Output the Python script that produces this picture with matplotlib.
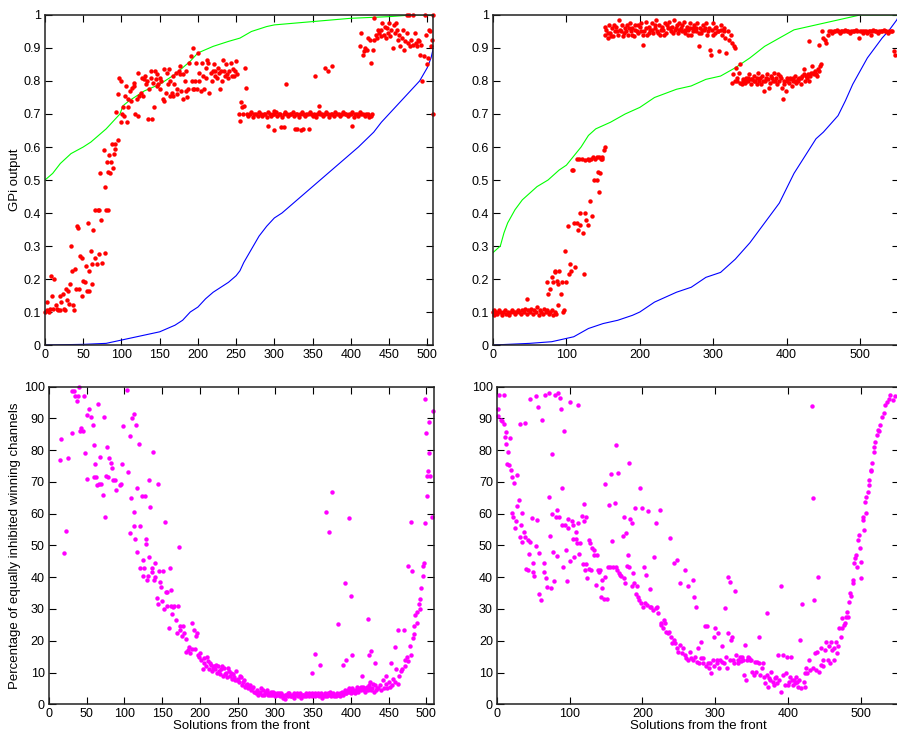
import matplotlib
matplotlib.use('Agg')
import matplotlib.pyplot as plt

plt.rcParams['font.family'] = ['Liberation Sans', 'DejaVu Sans']

# ---------------- top left: GPi output, first front ----------------
tl_green = [(0, .50), (10, .52), (20, .55), (34, .58), (50, .60), (60, .615), (70, .635),
            (80, .655), (90, .68), (98, .70), (102, .725), (110, .74), (130, .77), (150, .79),
            (170, .82), (180, .84), (190, .86), (200, .885), (220, .905), (240, .92), (255, .93),
            (270, .95), (290, .965), (300, .97), (350, .98), (400, .99), (450, .995), (480, 1.0),
            (508, 1.0)]
tl_blue = [(0, 0), (50, .002), (80, .005), (100, .015), (120, .025), (150, .04), (170, .06),
           (180, .075), (190, .10), (200, .115), (210, .14), (220, .16), (240, .19), (250, .21),
           (255, .225), (260, .25), (270, .29), (280, .33), (290, .36), (300, .385), (310, .40),
           (330, .44), (350, .48), (370, .52), (390, .56), (410, .60), (430, .645), (440, .675),
           (450, .70), (470, .75), (490, .80), (500, .84), (505, .87), (508, .90)]
tl_red_low = [(0, .10), (2, .105), (3, .13), (5, .10), (7, .11), (8, .21), (9, .15), (11, .11),
              (12, .20), (14, .12), (16, .11), (17, .105), (19, .15), (20, .105), (21, .13),
              (23, .155), (25, .11), (26, .105), (27, .17), (29, .135), (30, .165), (32, .125),
              (33, .185), (34, .30), (35, .225), (37, .12), (38, .105), (39, .23), (40, .17),
              (42, .36), (43, .355), (44, .17), (46, .27), (48, .15), (49, .265), (50, .195),
              (52, .19), (53, .24), (55, .165), (56, .37), (57, .225), (58, .165), (60, .285),
              (61, .185), (62, .245), (63, .35), (65, .265), (66, .41), (68, .245), (69, .41),
              (70, .275), (71, .41), (72, .52), (73, .38), (75, .25), (77, .59), (78, .48),
              (79, .28), (80, .41), (81, .555), (82, .41), (83, .525), (84, .575), (85, .52),
              (86, .555), (88, .61), (89, .535), (90, .58), (91, .61), (92, .595), (93, .705),
              (95, .62), (96, .76), (97, .81), (99, .675), (100, .80), (101, .70), (102, .72),
              (103, .695), (104, .755), (106, .785), (107, .675), (108, .745), (109, .72),
              (111, .77), (112, .74)]
tl_red_mid = [(114, .78), (116, .785), (117, .795), (118, .70), (120, .745), (121, .695),
              (122, .825), (123, .755), (126, .765), (127, .81), (128, .755), (129, .805),
              (131, .815), (132, .79), (133, .80), (135, .685), (136, .775), (138, .83),
              (139, .81), (140, .685), (141, .795), (142, .72), (144, .83), (145, .805),
              (146, .785), (147, .82), (148, .79), (150, .81), (151, .775), (152, .80),
              (154, .745), (155, .74), (156, .835), (158, .765), (159, .825), (161, .79),
              (162, .835), (163, .755), (164, .80), (166, .765), (167, .815), (168, .755),
              (169, .79), (171, .825), (172, .76), (173, .775), (175, .83), (176, .82),
              (177, .845), (178, .77), (180, .82), (181, .745), (183, .80), (184, .77),
              (185, .83), (186, .75), (187, .775), (189, .855), (191, .875), (192, .80),
              (193, .775), (194, .90), (195, .775), (196, .80), (198, .855), (199, .775),
              (200, .885), (201, .80), (202, .825), (204, .77), (205, .855), (207, .815),
              (208, .775), (210, .84), (211, .81), (212, .865), (213, .855), (215, .765),
              (217, .825), (218, .80), (220, .83), (221, .85), (222, .815), (223, .83),
              (225, .81), (226, .84), (228, .825), (229, .775), (230, .83), (231, .80),
              (233, .865), (234, .83), (236, .815), (237, .85), (238, .82), (240, .81),
              (241, .83), (243, .855), (244, .815), (246, .835), (247, .815), (248, .83),
              (250, .86), (251, .82), (254, .70), (255, .68), (256, .735), (258, .72),
              (259, .70), (260, .725), (262, .84), (263, .78)]
tl_red_band = [(264, .70), (266, .695), (268, .70), (270, .705), (272, .69), (274, .70),
               (276, .70), (278, .695), (280, .705), (282, .70), (284, .695), (286, .70),
               (288, .70), (290, .69), (292, .705), (294, .70), (296, .695), (298, .70),
               (300, .70), (302, .705), (304, .695), (306, .70), (308, .70), (310, .69),
               (312, .70), (314, .705), (316, .70), (318, .695), (320, .70), (322, .70),
               (324, .705), (326, .695), (328, .70), (330, .70), (332, .69), (334, .70),
               (336, .705), (338, .70), (340, .695), (342, .70), (344, .70), (346, .705),
               (348, .70), (350, .695), (352, .70), (354, .69), (356, .70), (358, .705),
               (360, .70), (362, .70), (364, .695), (366, .70), (368, .705), (370, .70),
               (372, .69), (374, .70), (376, .70), (378, .695), (380, .705), (382, .70),
               (384, .70), (386, .695), (388, .70), (390, .705), (392, .70), (394, .70),
               (396, .695), (398, .70), (400, .70), (402, .705), (404, .69), (406, .70),
               (408, .70), (410, .695), (412, .705), (414, .70), (416, .70), (418, .695),
               (420, .70), (422, .70), (424, .69), (426, .695), (428, .70)]
tl_red_out = [(292, .665), (299, .71), (300, .65), (309, .66), (312, .66), (315, .79),
              (327, .655), (330, .655), (335, .65), (337, .655), (345, .655), (353, .815),
              (359, .725), (366, .84), (370, .83), (375, .845), (402, .665)]
tl_red_high = [(412, .905), (413, .945), (416, .88), (417, .89), (419, .90), (421, .895),
               (423, .93), (425, .925), (427, .855), (429, .895), (430, .925), (431, .99),
               (433, .94), (434, .93), (436, .955), (437, .945), (439, .935), (440, .955),
               (441, .975), (443, .94), (445, .965), (446, .93), (448, .96), (449, .945),
               (450, .975), (451, .935), (453, .955), (455, .90), (456, .97), (458, .945),
               (459, .975), (461, .955), (462, .925), (463, .94), (465, .905), (467, .93),
               (468, .955), (470, .895), (471, .92), (473, .945), (474, 1.0), (475, .915),
               (476, 1.0), (478, .905), (479, .925), (481, .91), (482, 1.0), (484, .945),
               (485, .915), (487, .905), (488, .925), (489, .92), (491, .88), (492, .91),
               (493, .80), (496, .875), (497, 1.0), (498, .94), (500, .85), (501, .87),
               (502, .955), (503, .95), (505, .905), (506, .925), (507, 1.0), (508, .70)]

# ---------------- top right: GPi output, second front ----------------
tr_green = [(0, .28), (10, .30), (15, .34), (20, .37), (30, .41), (40, .44), (50, .46),
            (60, .48), (75, .50), (90, .53), (100, .545), (120, .60), (130, .635), (140, .655),
            (160, .675), (180, .70), (200, .72), (220, .75), (250, .775), (270, .785),
            (290, .805), (310, .815), (330, .84), (350, .87), (370, .905), (390, .93),
            (410, .955), (440, .97), (470, .985), (500, 1.0), (553, 1.0)]
tr_blue = [(0, 0), (50, .005), (80, .01), (100, .02), (110, .025), (130, .05), (150, .065),
           (170, .075), (190, .09), (200, .10), (220, .13), (250, .16), (270, .175),
           (290, .205), (310, .22), (330, .26), (350, .31), (370, .37), (390, .43), (410, .52),
           (420, .555), (430, .59), (440, .625), (450, .645), (460, .67), (470, .695),
           (480, .74), (490, .79), (510, .87), (530, .93), (540, .955), (550, .985), (553, 1.0)]
tr_red_low = [(0, .10), (1, .09), (2, .105), (4, .10), (6, .095), (8, .105), (10, .10),
              (12, .09), (14, .10), (16, .105), (18, .095), (20, .10), (22, .09), (24, .10),
              (26, .105), (28, .10), (30, .095), (32, .10), (34, .105), (36, .10), (38, .095),
              (40, .105), (42, .10), (44, .11), (46, .095), (47, .14), (48, .105), (50, .10),
              (52, .11), (54, .095), (56, .105), (58, .10), (60, .115), (62, .09), (64, .105),
              (66, .10), (68, .095), (70, .11), (72, .10), (74, .105), (76, .095), (78, .10),
              (80, .105), (82, .09), (84, .10), (86, .095), (88, .12)]
tr_red_rise = [(73, .19), (75, .155), (77, .17), (80, .205), (82, .19), (84, .225), (85, .22),
               (87, .195), (89, .185), (90, .225), (92, .155), (94, .19), (96, .10), (97, .105),
               (98, .285), (100, .19), (102, .36), (104, .215), (105, .245), (106, .225),
               (108, .53), (109, .53), (110, .37), (112, .235), (114, .37), (115, .565),
               (116, .35), (118, .365), (119, .40), (121, .565), (123, .34), (124, .215),
               (126, .40), (127, .38), (129, .565), (130, .365), (132, .435), (133, .565),
               (135, .39), (136, .57), (138, .50), (139, .565), (142, .50), (143, .525),
               (144, .465), (145, .57), (146, .52), (148, .57), (149, .565), (151, .59),
               (153, .60), (117, .565), (125, .56), (131, .56), (141, .57), (147, .565)]
tr_red_top = [(152, .94), (154, .955), (156, .93), (158, .97), (160, .945), (162, .96),
              (164, .935), (166, .95), (168, .965), (170, .94), (172, .985), (174, .95),
              (176, .97), (178, .945), (180, .96), (182, .97), (184, .94), (186, .975),
              (188, .95), (190, .96), (192, .935), (194, .97), (196, .95), (198, .945),
              (200, .965), (202, .975), (204, .91), (206, .95), (208, .98), (210, .94),
              (212, .965), (214, .955), (216, .975), (218, .945), (220, .96), (222, .985),
              (224, .95), (226, .97), (228, .94), (230, .965), (232, .955), (234, .975),
              (236, .945), (238, .96), (240, .98), (242, .95), (244, .965), (246, .985),
              (248, .955), (250, .97), (252, .945), (254, .975), (256, .96), (258, .95),
              (260, .98), (262, .945), (264, .965), (266, .955), (268, .975), (270, .94),
              (272, .96), (274, .97), (276, .95), (278, .975), (280, .905), (282, .96),
              (284, .945), (286, .97), (288, .955), (290, .975), (292, .94), (294, .96),
              (296, .895), (297, .88), (298, .955), (300, .975), (302, .945), (304, .965),
              (306, .95), (308, .89), (310, .97), (312, .94), (314, .96), (316, .93),
              (318, .885), (320, .95), (322, .925), (324, .94), (326, .915), (328, .905),
              (330, .90), (153, .965), (157, .945), (161, .935), (165, .97), (169, .95),
              (173, .955), (177, .935), (181, .95), (185, .96), (189, .94), (193, .955),
              (197, .97), (201, .95), (205, .94), (209, .96), (213, .945), (217, .955),
              (221, .97), (225, .945), (229, .955), (233, .94), (237, .97), (241, .96),
              (245, .945), (249, .96), (253, .955), (257, .97), (261, .955), (265, .94),
              (269, .96), (273, .95), (277, .96), (281, .945), (285, .955), (289, .96),
              (293, .95), (299, .94), (303, .96), (307, .95), (311, .955), (315, .95)]
tr_red_mid = [(325, .795), (327, .82), (329, .80), (331, .84), (333, .81), (335, .825),
              (337, .85), (339, .79), (341, .805), (343, .795), (345, .81), (347, .80),
              (349, .82), (351, .79), (353, .805), (355, .815), (357, .80), (359, .81),
              (361, .825), (363, .80), (365, .79), (367, .815), (369, .77), (371, .80),
              (373, .82), (375, .805), (377, .795), (379, .815), (381, .80), (383, .825),
              (385, .81), (387, .79), (389, .80), (391, .815), (393, .78), (395, .745),
              (397, .80), (399, .77), (401, .81), (403, .795), (405, .805), (407, .785),
              (409, .81), (411, .80), (413, .795), (415, .805), (417, .81), (419, .79),
              (421, .815), (423, .835), (425, .80), (427, .815), (429, .82), (431, .80),
              (433, .825), (435, .845), (437, .82), (439, .83), (441, .815), (443, .835),
              (445, .845), (447, .85), (332, .80), (336, .795), (340, .80), (344, .80),
              (348, .81), (352, .805), (356, .80), (360, .79), (364, .81), (368, .80),
              (372, .81), (376, .78), (380, .81), (384, .80), (388, .82), (392, .81),
              (396, .79), (400, .80), (404, .81), (408, .80), (412, .815), (416, .80),
              (420, .81), (424, .82), (428, .81), (432, .815), (436, .825), (440, .82),
              (444, .83)]
tr_red_end = [(431, .92), (444, .91), (448, .95), (450, .93), (452, .925), (454, .915),
              (456, .94), (458, .95), (460, .95), (462, .945), (464, .95), (466, .95),
              (468, .955), (470, .95), (472, .945), (474, .95), (476, .95), (478, .95),
              (480, .955), (482, .95), (484, .95), (486, .945), (488, .95), (490, .95),
              (492, .95), (494, .955), (496, .95), (498, .93), (500, .95), (502, .95),
              (504, .945), (506, .95), (508, .95), (510, .945), (512, .95), (514, .95),
              (515, .94), (516, .95), (518, .955), (520, .95), (522, .95), (524, .945),
              (526, .95), (528, .95), (530, .95), (532, .955), (534, .95), (536, .95),
              (538, .945), (540, .95), (542, .95), (544, .95), (546, .89), (548, .88)]

# ---------------- bottom left: % equally inhibited channels, first front ----------------
bl_mag_a = [(15, 77), (16, 83.5), (20, 47.5), (22, 54.5), (25, 77.5), (31, 85.5), (31, 98.5),
            (33, 98.5), (35, 97), (37, 95.5), (38, 97), (40, 100), (41, 86), (43, 87), (45, 86),
            (46, 97), (48, 79), (50, 71), (51, 91), (53, 93), (56, 90.5), (58, 88), (59, 81.5),
            (60, 71.5), (61, 75.5), (62, 71.5), (64, 69), (65, 94.5), (66, 69.5), (68, 78),
            (69, 69.5), (71, 66), (73, 90.5), (74, 59), (75, 72), (77, 81), (78, 71.5),
            (79, 77.5), (82, 76), (83, 74.5), (85, 70.5), (87, 70.5), (89, 67.5), (94, 69),
            (95, 69.5), (97, 75.5), (98, 87.5), (103, 99), (105, 73), (107, 84.5), (107, 54),
            (108, 65), (110, 90), (112, 56), (112, 60.5), (113, 91.5), (114, 52), (115, 88),
            (116, 68), (117, 48), (119, 82), (120, 43), (121, 56), (123, 65.5), (124, 45.5),
            (125, 40.5), (126, 43), (127, 65.5), (128, 50.5), (129, 52), (130, 39), (131, 40.5),
            (132, 70.5), (133, 46.5), (134, 62), (136, 41.5), (137, 43), (138, 79.5), (139, 39),
            (140, 40), (141, 44.5), (143, 33.5), (144, 31.5), (145, 69.5), (146, 42),
            (147, 38.5), (148, 37), (150, 32.5), (151, 42), (152, 30), (154, 57.5), (155, 35.5),
            (156, 31), (157, 35.5), (159, 24), (160, 43), (161, 31), (162, 36), (163, 28.5),
            (164, 30.5), (166, 31), (168, 26.5), (169, 22.5), (171, 31), (172, 49.5),
            (173, 24.5), (174, 23.5), (176, 21.5), (177, 24.5), (179, 22.5), (181, 16.5),
            (182, 20.5), (184, 17), (185, 18), (187, 16), (189, 25.5), (190, 17.5), (192, 23.5),
            (193, 17.5), (195, 21.5), (196, 22.5), (197, 15.5), (199, 15), (200, 16), (202, 14)]
bl_mag_b = [(204, 11), (205, 13), (206, 14.5), (208, 12), (210, 13.5), (212, 11), (214, 12.5),
            (216, 10.5), (218, 12), (220, 11), (222, 10), (224, 12), (226, 9.5), (228, 11),
            (230, 9), (232, 11.5), (234, 10), (236, 8.5), (238, 10.5), (240, 9), (242, 8),
            (244, 9.5), (246, 7.5), (248, 10.5), (250, 8), (252, 7), (254, 8.5), (256, 6),
            (258, 7.5), (260, 5.5), (262, 6.5), (264, 5), (266, 6), (268, 4.5), (270, 5.5),
            (272, 4), (274, 3.5), (209, 15), (213, 13), (217, 11.5), (221, 12.5), (225, 10.5),
            (229, 12), (233, 9.5), (237, 11.5), (241, 10), (245, 8.5), (249, 7.5), (253, 9),
            (257, 7), (261, 6), (265, 5.5), (269, 5)]
bl_mag_band = [(276, 4.5), (278, 3.5), (280, 4), (282, 3), (284, 4.5), (286, 3.5), (288, 4),
               (290, 3), (292, 3.5), (294, 4), (296, 3), (298, 3.5), (300, 2.5), (302, 3.5),
               (304, 3), (306, 2.5), (308, 3.5), (310, 2), (312, 1.8), (314, 3), (316, 2.5),
               (318, 3.5), (320, 2.5), (322, 3), (324, 2), (326, 3), (328, 3.5), (330, 2.5),
               (332, 3), (334, 2), (336, 3), (338, 2.5), (340, 3.5), (342, 3), (344, 2.5),
               (346, 3), (348, 3.5), (350, 3), (352, 2.5), (354, 3), (356, 3.5), (358, 2.5),
               (360, 3.5), (362, 2), (364, 3), (366, 3.5), (368, 2.5), (370, 3), (372, 4),
               (374, 2.5), (376, 3.5), (378, 3), (380, 2.5), (382, 3.5), (384, 3), (386, 2.5),
               (388, 4), (390, 3.5), (392, 4.5), (394, 3.5), (396, 4.5), (398, 4), (400, 3.5),
               (402, 5), (404, 4), (406, 4.5), (408, 5.5), (410, 4), (412, 5), (414, 4.5),
               (416, 5.5), (418, 4), (420, 5), (422, 4.5), (424, 6), (426, 4.5), (428, 5),
               (430, 4), (432, 6), (434, 5), (277, 3), (281, 5), (285, 3), (289, 4.5), (293, 3),
               (297, 4), (301, 3), (305, 3.5), (309, 3), (313, 3), (317, 3.5), (321, 2.5),
               (325, 3.5), (329, 3), (333, 3.5), (337, 3), (341, 2.5), (345, 3.5), (349, 2.5),
               (353, 3.5), (357, 3), (361, 3), (365, 2.5), (369, 3.5), (373, 3), (377, 2.5),
               (381, 3), (385, 3.5), (389, 3), (393, 3.5), (397, 5), (401, 4.5), (405, 3.5),
               (409, 4.5), (413, 5.5), (417, 4.5), (421, 5.5), (425, 5), (429, 6.5), (433, 4.5)]
bl_mag_out = [(349, 9.8), (353, 15.8), (359, 12.4), (367, 60.6), (371, 54.2), (375, 66.7),
              (383, 25.4), (390, 12.4), (392, 38.2), (393, 14), (397, 58.5), (400, 34),
              (401, 15.4), (415, 8.8), (422, 27), (424, 15.5), (425, 7), (426, 16.8), (432, 13)]
bl_mag_c = [(436, 5), (438, 6), (440, 4.5), (442, 7.5), (444, 5), (446, 6.5), (447, 9),
            (448, 5), (450, 7), (452, 5.5), (453, 13), (454, 6), (456, 8), (458, 18), (459, 7),
            (460, 11), (462, 6.5), (463, 23.5), (464, 9), (466, 10.5), (468, 11), (470, 23.5),
            (471, 14), (472, 12), (474, 15), (475, 43.5), (476, 13.5), (478, 18.5), (479, 57.5),
            (480, 15.5), (481, 42), (482, 21), (483, 24.5), (484, 22), (485, 28), (487, 25.5),
            (488, 29), (490, 31.5), (491, 30), (492, 33), (493, 36.5), (495, 40.5), (496, 43.5),
            (497, 44.5), (498, 57), (498, 96), (499, 85.5), (501, 72), (501, 65.5), (502, 73.5),
            (503, 89), (504, 79), (505, 72), (507, 59), (509, 92.5)]

# ---------------- bottom right: % equally inhibited channels, second front ----------------
br_mag_a = [(1, 90.8), (2, 93), (3, 97.5), (5, 89.5), (7, 89.3), (9, 88.3), (10, 97.5),
            (11, 84.2), (12, 82), (13, 85.6), (14, 75.5), (15, 79.5), (16, 75.3), (18, 83.8),
            (19, 73.8), (20, 71.7), (21, 60.1), (22, 59), (23, 69.6), (25, 55.4), (26, 57.6),
            (27, 62.4), (28, 72.2), (30, 64.3), (31, 52.8), (32, 88.2), (33, 56.5), (34, 51.2),
            (35, 60.1), (37, 54.4), (38, 88.7), (39, 52.8), (40, 42.5), (42, 51.6), (43, 42.3),
            (44, 47.3), (45, 96), (46, 51), (48, 58.5), (49, 44.4), (50, 41.8), (51, 40.4),
            (53, 97), (54, 49.8), (55, 58), (56, 93.5), (58, 47.5), (58, 34.7), (60, 32.9),
            (62, 89.5), (64, 41.6), (65, 44.6), (66, 97.3), (68, 39.7), (69, 36.8), (71, 98),
            (72, 65.2), (73, 53), (74, 36.5), (75, 78.8), (76, 59.8), (77, 47.9), (78, 38.7),
            (80, 97.5), (81, 59), (82, 46.7), (83, 61.2), (84, 98), (85, 59), (87, 96.4),
            (88, 93), (89, 56.5), (90, 68), (91, 43.1), (92, 85.9), (94, 56.6), (95, 48.6),
            (96, 38.9), (97, 58.4), (98, 55.4), (100, 45.2), (101, 95.1), (103, 57.7),
            (104, 52), (105, 56.4), (106, 46.3), (108, 52), (109, 54.4), (110, 50.7),
            (111, 94.2), (112, 57), (113, 47.4), (114, 50.7), (117, 59.2), (118, 44.2),
            (119, 57.7), (120, 63), (121, 42.3), (122, 59), (123, 44.2), (124, 39.7),
            (126, 42.7), (127, 51.7), (128, 50.7), (129, 42.3), (131, 49.1), (133, 48.6),
            (134, 47), (136, 37.6), (137, 47), (139, 42.3), (140, 41.8), (142, 42.3),
            (143, 33.9), (144, 36.5), (145, 39.1), (147, 33.3), (148, 69.4), (149, 40.2),
            (151, 33.3), (152, 43.3), (154, 62.8), (156, 43.3), (157, 72.4), (158, 51.5),
            (160, 43.3), (162, 63.4), (163, 43.1), (164, 81.7), (165, 42.3), (166, 72.7),
            (168, 41.2), (169, 40.7), (171, 40.4), (173, 53.1), (174, 39.7), (175, 59),
            (176, 38.1), (177, 53.8), (179, 43.6), (180, 47), (181, 76.1), (182, 43.3),
            (183, 58.3), (185, 37.1), (186, 57), (187, 41.2), (189, 38.1), (190, 61.7),
            (191, 34.7), (192, 37.1), (194, 33.9), (195, 32.9), (197, 68.2), (198, 32),
            (200, 61.7), (201, 30.7), (202, 43.3), (203, 31.9), (205, 40.7), (206, 31.3),
            (208, 60.7), (210, 30.7), (211, 36.2), (212, 30.7), (214, 29.7), (216, 46.5),
            (218, 30.2), (219, 57.2), (220, 30.7), (222, 28.7), (224, 61.3), (225, 25.5),
            (226, 25), (228, 23.9), (229, 26.5), (231, 25.5), (233, 22.9), (235, 22.4),
            (236, 22.9), (238, 52.3), (239, 21.3), (240, 19.2), (243, 20.3), (244, 44.4),
            (245, 19.2), (247, 45.4), (247, 17.6), (249, 16.6), (251, 38.1), (252, 18.7),
            (254, 16), (256, 17.8), (258, 42.3), (259, 15.5), (260, 14.5)]
br_mag_b = [(262, 37.1), (263, 14), (265, 16.6), (267, 14.5), (269, 39.1), (270, 14),
            (271, 33.9), (272, 15), (273, 30.7), (275, 13.4), (276, 17.6), (278, 12.9),
            (280, 14.5), (281, 19.7), (283, 14.5), (284, 12.9), (286, 24.5), (287, 11.9),
            (289, 24.5), (290, 12.9), (292, 11.3), (293, 12.9), (295, 9.8), (297, 14),
            (298, 21.3), (299, 11.9), (300, 23.9), (302, 12.9), (303, 14), (304, 22.4),
            (306, 11.3), (307, 14), (309, 18.2), (310, 13.4), (312, 12.9), (313, 30.2),
            (315, 14.8), (316, 11.3), (318, 22.4), (318, 40.2), (320, 38.6), (321, 14),
            (322, 20.3), (323, 21.3), (325, 14), (326, 13.1), (328, 35.8), (329, 15.5),
            (331, 12.9), (332, 14), (334, 15), (336, 13.7), (337, 15), (339, 14), (340, 9.2),
            (341, 18.7), (343, 7.7), (344, 14), (345, 15), (347, 14.5), (348, 14), (350, 14),
            (351, 10.3), (353, 9.2), (355, 13.4), (356, 10.3), (358, 13.4), (360, 12.9),
            (361, 21.3), (362, 9.2), (364, 11.3), (366, 12.9), (367, 8.7), (369, 6.6),
            (371, 9.2), (371, 28.8), (373, 5.5), (374, 8.2), (376, 7.7), (377, 10.3),
            (379, 7.1), (381, 6.1), (382, 8.2), (384, 8.7), (385, 6.6), (387, 15.5), (388, 7.7),
            (390, 4), (391, 37.3), (393, 9.2), (394, 15.5), (396, 6.1), (397, 9.8), (399, 15),
            (400, 6.1), (402, 7.1), (403, 8.7), (405, 15), (406, 7.7), (407, 6.1), (408, 7.7),
            (410, 6.6), (411, 8.7), (413, 7.1), (414, 5.5), (415, 7.7), (417, 20.3), (418, 5),
            (420, 31.7), (422, 7.1), (423, 5.5), (424, 9.8), (425, 11.3), (427, 9.8), (429, 14),
            (431, 10.8), (433, 94), (434, 65), (435, 11.3), (436, 32.9), (437, 16.1),
            (439, 10.8), (440, 16.6), (442, 40.2), (443, 10.3), (445, 17.6), (446, 12.4),
            (448, 14), (449, 11.9), (451, 17.1), (453, 19.7), (455, 14), (456, 18.2),
            (458, 12.9), (459, 19.7), (461, 17.1), (463, 14), (464, 17.6), (466, 19.7),
            (467, 16.1), (469, 18.2)]
br_mag_c = [(471, 23.9), (473, 21.3), (474, 23.9), (475, 27.1), (477, 25), (478, 25.5),
            (480, 27.6), (481, 29.2), (483, 27.6), (484, 32.3), (486, 35), (487, 34),
            (489, 38.1), (490, 39.1), (491, 44.4), (492, 46), (494, 47), (495, 43.3),
            (497, 51.7), (498, 53.3), (499, 49.1), (500, 39.7), (501, 44.9), (503, 58),
            (504, 59), (505, 54.9), (506, 63.8), (507, 60.1), (508, 65.4), (510, 66.9),
            (511, 69), (512, 70.6), (514, 73.3), (515, 73.8), (516, 75.9), (518, 79.5),
            (519, 81.1), (520, 82.7), (522, 84.8), (524, 86.4), (525, 86), (527, 88),
            (530, 90.6), (532, 91.6), (534, 94.3), (537, 95.3), (539, 96), (541, 97.4),
            (544, 95.8), (547, 97)]

gpi_ticks = [0, .1, .2, .3, .4, .5, .6, .7, .8, .9, 1]
gpi_labels = ['0', '0.1', '0.2', '0.3', '0.4', '0.5', '0.6', '0.7', '0.8', '0.9', '1']
pct_ticks = [0, 10, 20, 30, 40, 50, 60, 70, 80, 90, 100]


def xy(pts):
    return [p[0] for p in pts], [p[1] for p in pts]


def frame(ax, xmax, xstep, yticks, ylabels):
    ax.set_xlim(0, xmax)
    ax.set_xticks(list(range(0, 501, xstep)))
    ax.set_ylim(yticks[0], yticks[-1])
    ax.set_yticks(yticks)
    ax.set_yticklabels(ylabels)
    ax.tick_params(direction='in', top=True, right=True, length=5, width=0.8,
                   labelsize=9, pad=3)
    for s in ax.spines.values():
        s.set_linewidth(1.1)
        s.set_color('#222222')


def dots(ax, pts, color):
    x, y = xy(pts)
    ax.plot(x, y, 'o', color=color, ms=3.2, mec='none', clip_on=False)


fig = plt.figure(figsize=(8.97, 7.35), dpi=100)
ax1 = fig.add_axes([0.0502, 0.5306, 0.4329, 0.449])
ax2 = fig.add_axes([0.5496, 0.5306, 0.4526, 0.449])
ax3 = fig.add_axes([0.0546, 0.0418, 0.4292, 0.4321])
ax4 = fig.add_axes([0.5541, 0.0418, 0.4482, 0.4321])

# top left
x, y = xy(tl_green)
ax1.plot(x, y, color=(0, 1, 0), lw=0.8)
x, y = xy(tl_blue)
ax1.plot(x, y, color=(0, 0, 1), lw=0.8)
for seg in [tl_red_low, tl_red_mid, tl_red_band, tl_red_out, tl_red_high]:
    dots(ax1, seg, (1, 0, 0))
frame(ax1, 508, 50, gpi_ticks, gpi_labels)
ax1.set_ylabel('GPi output', fontsize=9.5)
ax1.yaxis.set_label_coords(-0.062, 0.5)

# top right
x, y = xy(tr_green)
ax2.plot(x, y, color=(0, 1, 0), lw=0.8)
x, y = xy(tr_blue)
ax2.plot(x, y, color=(0, 0, 1), lw=0.8)
for seg in [tr_red_low, tr_red_rise, tr_red_top, tr_red_mid, tr_red_end]:
    dots(ax2, seg, (1, 0, 0))
frame(ax2, 553, 100, gpi_ticks, gpi_labels)

# bottom left
for seg in [bl_mag_a, bl_mag_b, bl_mag_band, bl_mag_out, bl_mag_c]:
    dots(ax3, seg, (1, 0, 1))
frame(ax3, 510, 50, pct_ticks, [str(t) for t in pct_ticks])
ax3.set_ylabel('Percentage of equally inhibited winning channels', fontsize=9.5)
ax3.yaxis.set_label_coords(-0.073, 0.5)
ax3.set_xlabel('Solutions from the front', fontsize=9.5)
ax3.xaxis.set_label_coords(0.5, -0.05)

# bottom right
for seg in [br_mag_a, br_mag_b, br_mag_c]:
    dots(ax4, seg, (1, 0, 1))
frame(ax4, 553, 100, pct_ticks, [str(t) for t in pct_ticks])
ax4.set_xlabel('Solutions from the front', fontsize=9.5)
ax4.xaxis.set_label_coords(0.5, -0.05)

fig.savefig('out.png', dpi=100)
